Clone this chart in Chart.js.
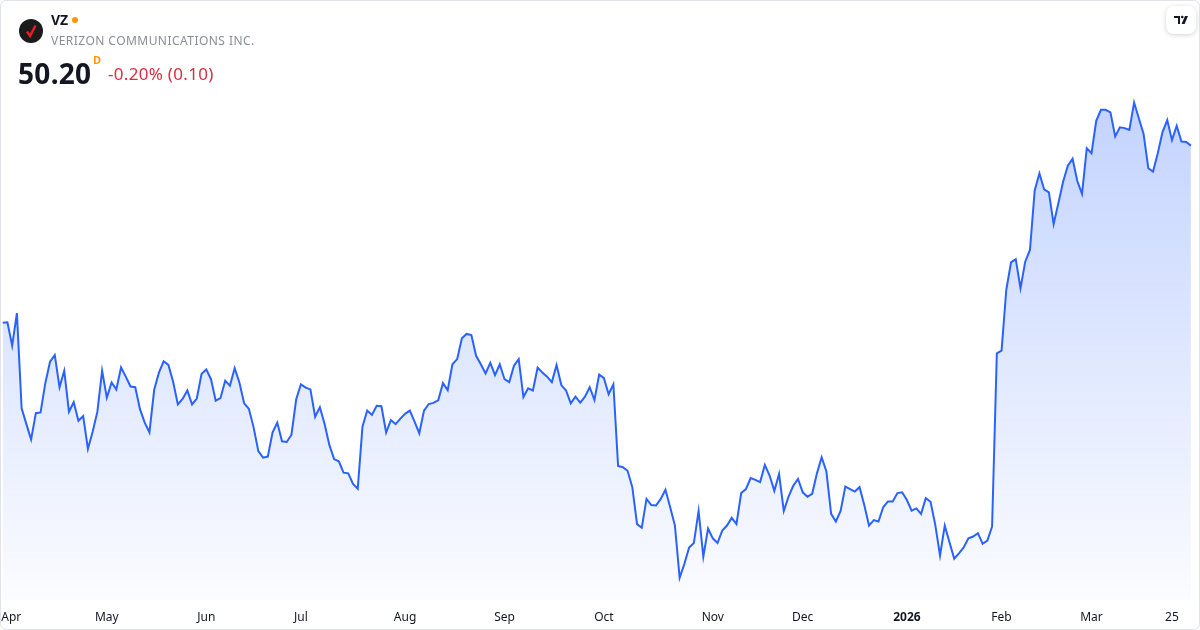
<!DOCTYPE html>
<html>
<head>
<meta charset="utf-8">
<script src="https://cdn.jsdelivr.net/npm/chart.js@4.4.1/dist/chart.umd.min.js"></script>
<style>
  html, body { margin: 0; padding: 0; background: #fff; }
  body { width: 1200px; height: 630px; position: relative; overflow: hidden; font-family: "Noto Sans", "Open Sans", sans-serif; }
  #card { position: absolute; left: 0; top: 0; width: 1198px; height: 628px; border: 1px solid #e0e3eb; border-radius: 6px; }
  #wrap { position: absolute; left: 0; top: 0; width: 1200px; height: 630px; }
  .hdr { position: absolute; white-space: nowrap; }
  #logo { left: 19px; top: 19px; width: 24px; height: 24px; border-radius: 50%; background: #1b1b1b; }
  #sym { left: 51px; top: 10px; font-size: 14px; font-weight: 700; color: #131722; }
  #dot { left: 72px; top: 17px; width: 6px; height: 6px; border-radius: 50%; background: #ff9800; }
  #name { left: 51px; top: 32px; font-size: 12px; color: #8a8d97; letter-spacing: 0.45px; }
  #price { left: 18px; top: 54px; font-size: 28px; font-weight: 700; color: #131722; letter-spacing: 0.3px; }
  #res { left: 93px; top: 52px; font-size: 11px; font-weight: 700; color: #ff9800; }
  #chg { left: 108px; top: 62px; font-size: 17px; color: #de2b3f; letter-spacing: 0.3px; }
  #tv { right: 4px; top: 6px; width: 30px; height: 28px; border-radius: 8px; background: #fff; box-shadow: 0 1px 5px rgba(0,0,0,0.18); }
</style>
</head>
<body>
<div id="card"></div>
<div id="wrap"><canvas id="vzChart" width="1200" height="630"></canvas></div>

<div class="hdr" id="logo">
  <svg width="24" height="24" viewBox="0 0 24 24"><path d="M8 12.5 L11 17 L16.5 6.5" fill="none" stroke="#ee1c25" stroke-width="2.4" stroke-linejoin="miter"/></svg>
</div>
<div class="hdr" id="sym">VZ</div>
<div class="hdr" id="dot"></div>
<div class="hdr" id="name">VERIZON COMMUNICATIONS INC.</div>
<div class="hdr" id="price">50.20</div>
<div class="hdr" id="res">D</div>
<div class="hdr" id="chg">-0.20% (0.10)</div>
<div class="hdr" id="tv">
  <svg width="30" height="28" viewBox="0 0 30 28"><path d="M8 10 H14 V18 H12 V12 H8 Z" fill="#131722"/><circle cx="16.3" cy="11" r="1.3" fill="#131722"/><path d="M19 10 H22 L18.6 18 H15.6 Z" fill="#131722"/></svg>
</div>

<script>
// daily closes, Mar 31 2025 .. Mar 31 2026
const closes = [
  45.35, 45.36, 44.72, 45.61, 43.00, 42.57, 42.15, 42.87, 42.89, 43.69,
  44.28, 44.46, 43.58, 44.03, 42.91, 43.17, 42.66, 42.79, 41.89, 42.36,
  42.91, 44.03, 43.29, 43.71, 43.52, 44.12, 43.87, 43.60, 43.58, 42.98,
  42.61, 42.34, 43.51, 43.98, 44.29, 44.19, 43.73, 43.11, 43.26, 43.49,
  43.11, 43.27, 43.94, 44.07, 43.80, 43.21, 43.28, 43.76, 43.62, 44.10,
  43.71, 43.14, 42.99, 42.48, 41.83, 41.65, 41.68, 42.34, 42.61, 42.10,
  42.08, 42.28, 43.25, 43.66, 43.57, 43.52, 42.77, 43.03, 42.57, 42.00,
  41.61, 41.55, 41.24, 41.22, 40.93, 40.80, 42.50, 42.94, 42.82, 43.07,
  43.06, 42.34, 42.68, 42.57, 42.72, 42.85, 42.94, 42.64, 42.32, 42.94,
  43.12, 43.15, 43.22, 43.69, 43.50, 44.21, 44.35, 44.92, 45.04, 45.01,
  44.44, 44.21, 43.96, 44.25, 43.91, 44.21, 43.80, 43.72, 44.17, 44.35,
  43.31, 43.55, 43.49, 44.12, 43.98, 43.87, 43.72, 44.19, 43.64, 43.49,
  43.14, 43.32, 43.16, 43.32, 43.58, 43.23, 43.93, 43.83, 43.39, 43.66,
  41.42, 41.39, 41.29, 40.84, 39.83, 39.73, 40.52, 40.35, 40.34, 40.52,
  40.77, 40.29, 39.79, 38.36, 38.74, 39.19, 39.31, 40.19, 38.94, 39.71,
  39.44, 39.31, 39.65, 39.79, 40.00, 39.83, 40.68, 40.79, 41.09, 41.04,
  40.98, 41.45, 41.16, 40.74, 41.20, 40.19, 40.58, 40.88, 41.07, 40.70,
  40.58, 40.66, 41.22, 41.66, 41.27, 40.11, 39.90, 40.19, 40.86, 40.79,
  40.72, 40.84, 40.35, 39.79, 39.94, 39.90, 40.29, 40.45, 40.45, 40.68,
  40.70, 40.49, 40.20, 40.26, 40.11, 40.54, 40.44, 39.81, 38.97, 39.79,
  39.33, 38.88, 39.03, 39.19, 39.44, 39.49, 39.58, 39.29, 39.38, 39.76,
  44.51, 44.58, 46.25, 47.00, 47.09, 46.29, 47.02, 47.34, 48.97, 49.44,
  49.00, 48.92, 48.05, 48.62, 49.21, 49.65, 49.84, 49.23, 48.88, 50.13,
  49.99, 50.88, 51.18, 51.18, 51.11, 50.45, 50.70, 50.68, 50.63, 51.38,
  50.95, 50.52, 49.58, 49.49, 49.99, 50.57, 50.90, 50.35, 50.74, 50.31,
  50.30, 50.20
];

// x-axis labels: bar index where each label sits
const tickIndex = [1.8, 22, 43, 63, 85, 106, 127, 150, 169, 191, 211, 230, 247];
const tickText = ["Apr", "May", "Jun", "Jul", "Aug", "Sep", "Oct", "Nov", "Dec", "2026", "Feb", "Mar", "25"];

const points = closes.map((v, i) => ({ x: i, y: v }));

const ctx = document.getElementById("vzChart").getContext("2d");
const grad = ctx.createLinearGradient(0, 100, 0, 600);
grad.addColorStop(0, "rgba(41, 98, 255, 0.28)");
grad.addColorStop(1, "rgba(41, 98, 255, 0.02)");

const config = {
  type: "line",
  data: {
    datasets: [
      {
        data: points,
        borderColor: "#2962ff",
        borderWidth: 2,
        pointRadius: 0,
        tension: 0,
        fill: "start",
        backgroundColor: grad,
      },
    ],
  },
  options: {
    responsive: false,
    animation: false,
    layout: { padding: 0 },
    plugins: { legend: { display: false }, tooltip: { enabled: false } },
    scales: {
      x: {
        type: "linear",
        min: -0.57,
        max: 252.92,
        grid: { display: false, drawTicks: false },
        border: { display: false },
        afterFit: (s) => {
          s.paddingLeft = 0;
          s.paddingRight = 0;
          s.height = 30;
        },
        afterBuildTicks: (s) => {
          s.ticks = tickIndex.map((v) => ({ value: v }));
        },
        ticks: {
          autoSkip: false,
          maxRotation: 0,
          padding: 10,
          color: "#131722",
          callback: (v) => tickText[tickIndex.indexOf(v)],
        },
      },
      y: {
        display: false,
        min: 37.75,
        max: 54.19,
      },
    },
  },
};

// bold the year label like the reference
config.options.scales.x.ticks.font = (c) => ({
  size: 12,
  family: "'Noto Sans', sans-serif",
  weight: c.tick && tickText[tickIndex.indexOf(c.tick.value)] === "2026" ? "bold" : "normal",
});

new Chart(ctx, config);
</script>
</body>
</html>
